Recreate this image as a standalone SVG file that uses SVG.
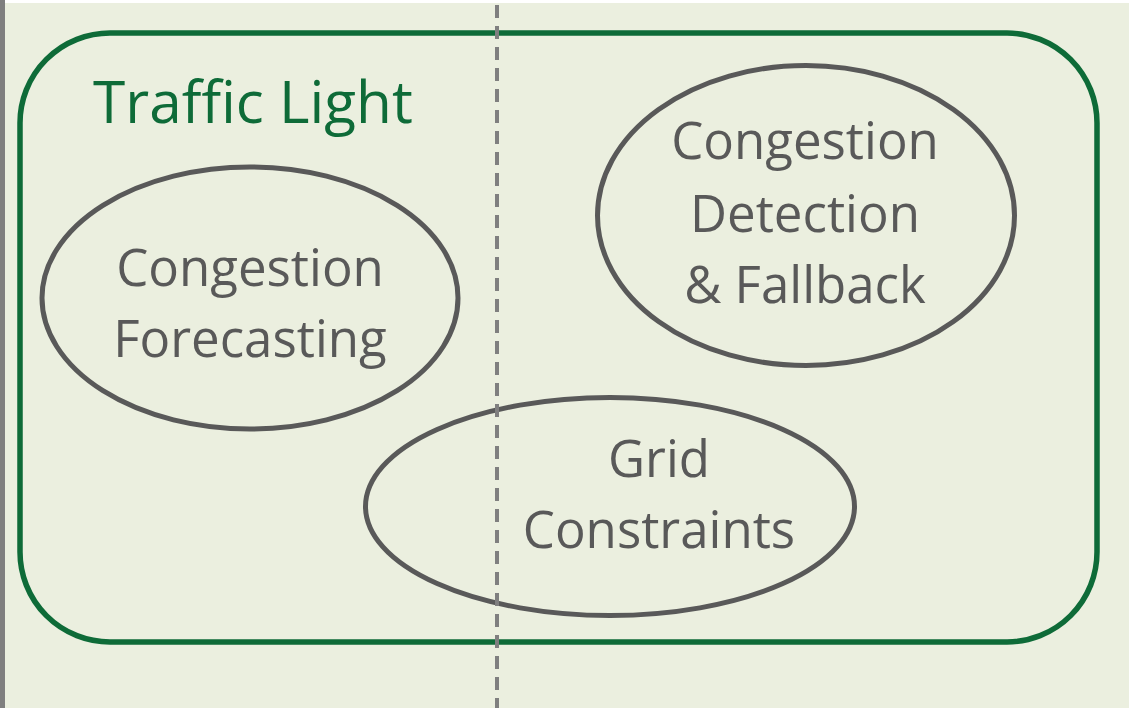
<svg xmlns="http://www.w3.org/2000/svg" width="1129" height="708" viewBox="0 0 1129 708">
<style>
.ell{fill:none;stroke:#595959;stroke-width:5}
.lbl{font-family:"Open Sans","Noto Sans",sans-serif;font-size:51px;fill:#595959;text-anchor:middle}
.title{font-family:"Open Sans","Noto Sans",sans-serif;font-size:58.5px;fill:#0E6B38}
</style>
<rect x="0" y="0" width="1129" height="708" fill="#EBEFDF"/>
<rect x="0" y="0" width="1129" height="3" fill="#FFFFFF"/>
<rect x="0" y="0" width="5" height="708" fill="#7F7F7F"/>
<g id="traffic-light">
<rect x="20" y="33" width="1077" height="609" rx="90" ry="90" fill="none" stroke="#0E6B38" stroke-width="5.5"/>
<text class="title" x="93" y="123">Traffic Light</text>
</g>
<g id="forecasting">
<ellipse class="ell" cx="250" cy="298" rx="208" ry="131"/>
<text class="lbl" x="250" y="286">Congestion</text>
<text class="lbl" x="250" y="357">Forecasting</text>
</g>
<g id="detection">
<ellipse class="ell" cx="806" cy="215.5" rx="208.5" ry="150"/>
<text class="lbl" x="805" y="159">Congestion</text>
<text class="lbl" x="805" y="232">Detection</text>
<text class="lbl" x="805" y="303">&amp; Fallback</text>
</g>
<g id="grid">
<ellipse class="ell" cx="610" cy="506.5" rx="244.5" ry="109"/>
<text class="lbl" x="659" y="477">Grid</text>
<text class="lbl" x="659" y="548">Constraints</text>
</g>
<g id="connectors">
<line x1="497" y1="5" x2="497" y2="708" stroke="#7F7F7F" stroke-width="4" stroke-dasharray="13 8"/>
</g>
</svg>
